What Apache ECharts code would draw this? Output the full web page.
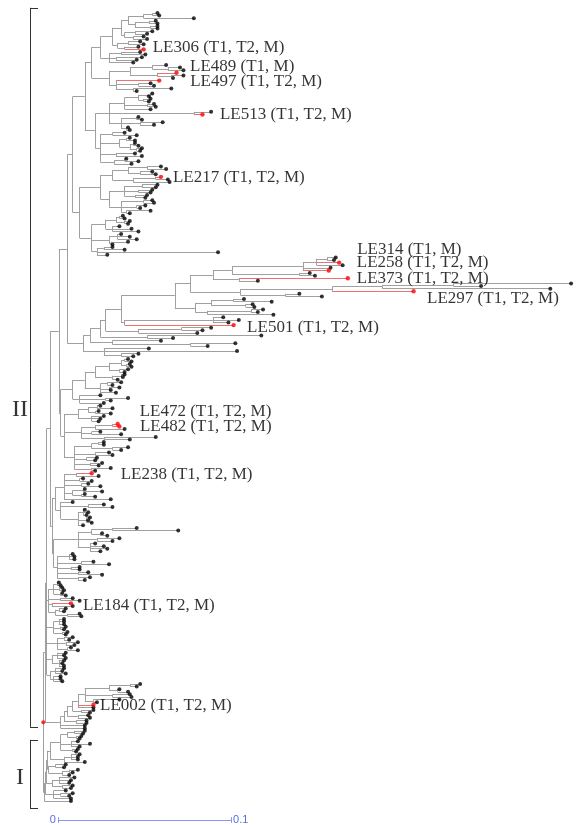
<!DOCTYPE html>
<html><head><meta charset="utf-8">
<script src="https://cdn.jsdelivr.net/npm/echarts@6/dist/echarts.min.js"></script>
<style>html,body{margin:0;padding:0;background:#fff}#c{width:578px;height:825px}</style>
</head><body><div id="c"></div>
<script>
// Tree nodes: [distance from root (x0.001 subst./site), child, child, ...]
// Leaf: distance from root; highlighted isolate: 'NAME:distance'
const A1 = [33,
  [40,
    [45,
      [49, [58, [63, 66, 67], 87], [53, [61, 65, 66], [62, 66, 66]]],
      [47, [53, 63, 60], [52, 58, 60]]
    ],
    [43, [49, 56, 58], [47, 55, 'LE306:58']]
  ],
  [38, [45, 56, 59], [42, 57, 54], 52]
];
const A2 = [38,
  [50, [63, 71, [72, 79, 81]], [66, 'LE489:77', [74, 81, 75]]],
  [42, 'LE497:67', [55, 62, 64], [52, 74, 54]]
];
const A3 = [38,
  [47, [55, [62, 63, 61], [58, 62, 61]], [60, 64, 65], 62],
  [87, 97, 'LE513:92'],
  [45, [54, 55, 57], [56, 69, 64], [48, 49, 50]]
];
const A4 = [33,
  [40, 47, 54],
  [44, [48, 50, 53], [50, [52, 53, 55], [54, 57, 56]]],
  [42, 53, 57],
  [41, [47, 48, 55], 51]
];
const A5 = [33,
  [40, [49, [60, 68, 71], [56, 63, 65]], [52, [65, 'LE217:68', 72], 73]],
  [38,
    [47, [57, 66, 65], [55, 63, 62], [53, 60, 59]],
    [45, [58, 63, 64], [54, 59, 56], [48, 62, 50]]
  ]
];
const A6 = [28,
  [36, [42, [44, 46, 47], [47, 50, 49]], [40, 44, 51, 55]],
  [38, [43, 45, 50, 54], [39, 49, 40]],
  [31, [35, 40, 47], 101, 37]
];
const CLADE_A = [17, [24, [28, A1, A2], [30, A3, A4]], [21, A5, A6]];

const B_TOP = [98,
  [109,
    [150, [158, [164, 169, 168], 'LE314:171', 173], 166, 'LE258:165'],
    [148, 154, 157]
  ],
  [113, 'LE373:176', 124]
];
const B_297 = [114, [167, [196, [237, 305, 253], 293], 'LE297:214'], [140, 148, 161]];
const B_MID = [88, [97, [110, 116, 132], [117, 121, 122]], [95, [120, 127, 124], 133]];
const B_501 = [47, [98, 104, 113, 107], 'LE501:110'];
const CLADE_B = [23,
  [27,
    [33,
      [36, [45, [76, [85, B_TOP, B_297], B_MID], B_501], [55, [80, 97, 92], 89]],
      [60, 126, 75]
    ],
    [40, 68, [85, 111, 95]]
  ],
  [35, 61, 112, [45, 55, 52]]
];

const C1 = [17,
  [24,
    [30, [38, [45, [47, 49, 51], [48, 50, 51]], [44, 49, 47]], [40, [45, 47, 46], 43]],
    [33, [37, 45, 40], [38, 44, 39], 42]
  ],
  [21, 33, [36, 49, 39], 35]
];
const C2 = [12,
  [20, [26, [31, 33, 40], [30, 32, 39]], [28, 35, 33, 32]],
  [22, [30, [40, 'LE472:43', 'LE482:44'], 47], [28, 33, 45], [35, 65, 50]],
  [18, [28, [32, 35, 35], [40, 49, 45]], [30, 38, 40], [25, 31, 30], [27, 34, 32], [28, 39, 30]]
];
const CLADE_C = [10, C1, C2];

const D1 = [12, [19, 'LE238:28', 32], [21, 23, 28], [22, 26, 33], [17, [23, 24, 34], [22, 24, 30]], 39];
const D2 = [10, 17, [26, 35, 40], [20, [23, 24, 26, 25], [25, 27, 26, 28], 23]];
const D3 = [20, [28, [40, 54, 78], [33, 34, 37]], [31, 44, 40], [27, 30, 35, 37, 33]];
const D4 = [8, [15, 17, 18, 18], [22, 29, 38], [16, 21, 21], [20, 26, 34], [20, 27, 24]];
const CLADE_D = [5, [7, D1, D2], [6, D3, D4]];

const E1 = [3,
  [6, [8, 9, 10], [9, 11, 12], [10, 11, 13]],
  [10, 17, 21],
  [5, 'LE184:16', 17],
  [7, [9, 13, 12], [14, 21, 22]]
];
const E2 = [2,
  [6, [9, 12, 12, 12], [10, 13, 12], [11, 14, 13]],
  [8, [12, 17, 15], [13, 20, 18], [14, 16, 20]],
  [5, [8, 13, 12, 13], [9, 12, 11, 12]],
  [4, [7, 12, 11, 13], [6, 10, 10, 11]]
];
const CLADE_F = [8,
  [10,
    [12,
      [14,
        [17,
          [20, [24, [38, [50, 56, 54], [43, 44, 49]], [40, 50, 51], [29, 44, 31]], 'LE002:29', 29],
          [22, 29, 27]
        ],
        [20, 26, 27]
      ],
      [19, 25, 25]
    ],
    24, 24
  ]
];
const I1 = [4,
  [10, [14, [18, 24, 23], [19, 22, 21]], [16, 20, 27, 21], [17, 20, 19]],
  [12, [16, 21, 20, 20], 24]
];
const I2 = [3, [7, 13, 12], [11, [15, 20, 17], 15]];
const I3 = [5, [9, 18, 16, 15], [11, 17, 16]];
const I4 = [6, 13, [10, 17, 15], 16];
const CLADE_I = [0.6, [1.2, [1.8, [2.4, I1, I2], I3], I4], 16];
const CLADE_II = [1, [1.5, [2, [4, [9, [14, CLADE_A, CLADE_B], CLADE_C], CLADE_D], E1], E2], CLADE_F];
const TREE = [0, CLADE_II, CLADE_I];

// Highlighted isolates and the specimens they were found in
const HIGHLIGHT_TAGS = [
  ['LE306', '(T1, T2, M)'], ['LE489', '(T1, M)'], ['LE497', '(T1, T2, M)'], ['LE513', '(T1, T2, M)'],
  ['LE217', '(T1, T2, M)'], ['LE314', '(T1, M)'], ['LE258', '(T1, T2, M)'], ['LE373', '(T1, T2, M)'],
  ['LE297', '(T1, T2, M)'], ['LE501', '(T1, T2, M)'], ['LE472', '(T1, T2, M)'], ['LE482', '(T1, T2, M)'],
  ['LE238', '(T1, T2, M)'], ['LE184', '(T1, T2, M)'], ['LE002', '(T1, T2, M)']
];
// Clade brackets: [name, first row, last row]
const CLADE_BRACKETS = [['II', -2, 274.5], ['I', 279.5, 305.8]];
// Scale bar ticks (substitutions per site)
const SCALE_TICKS = [0, 0.1];

// ---------- style / placement ----------
const LABEL_OFFSETS = {
  LE306: [9, -1.5], LE489: [13.5, -6], LE497: [31, 0.5], LE513: [17.5, 0], LE217: [12, 1],
  LE314: [18, -12.7], LE258: [28, -7.5], LE373: [9, 0], LE297: [13.5, 7.7], LE501: [13.5, 2],
  LE472: [22, -12], LE482: [20.5, 0.5], LE238: [29, 1], LE184: [12, 2.6], LE002: [6.6, 1]
};
const BRACKET_LABEL_ROWS = {II: 152.7, I: 294.2};
const UNIT = 0.001;          // tree distances are in 0.001 subst./site
const BRACKET_X = -7.66, BRACKET_TICK = -3.04, BRACKET_LABEL_X = -13.4;
const SCALE_START = 8.5, SCALE_ROW = 310.3;

// ---------- layout ----------
let leafRow = 0;
const greySegs = [], redSegs = [], leafDots = [], redDots = [];
function layout(node, parentD) {
  if (!Array.isArray(node)) {
    let d = node, name = null;
    if (typeof node === 'string') { const p = node.split(':'); name = p[0]; d = +p[1]; }
    const y = leafRow++;
    if (name) { redSegs.push({coords: [[parentD, y], [d, y]]}); redDots.push({name: name, value: [d, y]}); }
    else { greySegs.push({coords: [[parentD, y], [d, y]]}); leafDots.push([d, y]); }
    return y;
  }
  const d = node[0];
  const ys = [];
  for (let i = 1; i < node.length; i++) ys.push(layout(node[i], d));
  const y = (ys[0] + ys[ys.length - 1]) / 2;
  greySegs.push({coords: [[d, ys[0]], [d, ys[ys.length - 1]]]});
  if (parentD !== null) greySegs.push({coords: [[parentD, y], [d, y]]});
  return y;
}
const rootY = layout(TREE, null);

const tagMap = Object.fromEntries(HIGHLIGHT_TAGS);
const redLabelData = redDots.map(p => {
  const off = LABEL_OFFSETS[p.name] || [6, 0];
  return {name: p.name, value: p.value, label: {offset: [off[0] - 2.2, off[1]]}};
});

const bracketSegs = [], bracketLabels = [];
CLADE_BRACKETS.forEach(b => {
  bracketSegs.push({coords: [[BRACKET_X, b[1]], [BRACKET_X, b[2]]]});
  bracketSegs.push({coords: [[BRACKET_X, b[1]], [BRACKET_TICK, b[1]]]});
  bracketSegs.push({coords: [[BRACKET_X, b[2]], [BRACKET_TICK, b[2]]]});
  bracketLabels.push({name: b[0], value: [BRACKET_LABEL_X, BRACKET_LABEL_ROWS[b[0]]]});
});

const sx0 = SCALE_START + SCALE_TICKS[0] / UNIT, sx1 = SCALE_START + SCALE_TICKS[1] / UNIT;
const scaleSegs = [
  {coords: [[sx0, SCALE_ROW], [sx1, SCALE_ROW]]},
  {coords: [[sx0, SCALE_ROW - 1.1], [sx0, SCALE_ROW + 1.1]]},
  {coords: [[sx1, SCALE_ROW - 1.1], [sx1, SCALE_ROW + 1.1]]}
];
const scaleLabels = [
  {name: String(SCALE_TICKS[0]), value: [sx0, SCALE_ROW], label: {position: 'left', distance: 2}},
  {name: String(SCALE_TICKS[1]), value: [sx1, SCALE_ROW], label: {position: 'right', distance: 2}}
];

const chart = echarts.init(document.getElementById('c'), null, {renderer: 'canvas'});
chart.setOption({
  animation: false,
  grid: {left: 0, right: 0, top: 0, bottom: 0},
  xAxis: {type: 'value', min: -25, max: 309, show: false},
  yAxis: {type: 'value', inverse: true, min: -5, max: 312.23, show: false},
  series: [
    {type: 'lines', coordinateSystem: 'cartesian2d', silent: true, data: greySegs,
      lineStyle: {color: '#a0a0a0', width: 1, opacity: 1}},
    {type: 'lines', coordinateSystem: 'cartesian2d', silent: true, data: redSegs,
      lineStyle: {color: '#f07070', width: 1, opacity: 1}},
    {type: 'lines', coordinateSystem: 'cartesian2d', silent: true, data: bracketSegs,
      lineStyle: {color: '#333', width: 1, opacity: 1}},
    {type: 'lines', coordinateSystem: 'cartesian2d', silent: true, data: scaleSegs,
      lineStyle: {color: '#8a94f2', width: 1, opacity: 1}},
    {type: 'scatter', silent: true, symbolSize: 4, data: leafDots, itemStyle: {color: '#000'}},
    {type: 'scatter', silent: true, symbolSize: 4.4, data: redLabelData, itemStyle: {color: '#ff0000'},
      label: {show: true, position: 'right', distance: 0, formatter: p => p.name + ' ' + tagMap[p.name],
        fontFamily: 'Liberation Serif', fontSize: 17, color: '#000'}},
    {type: 'scatter', silent: true, symbolSize: 4, data: [[0, rootY]], itemStyle: {color: '#ff0000'}},
    {type: 'scatter', silent: true, symbolSize: 0, data: bracketLabels,
      label: {show: true, position: 'inside', formatter: p => p.name,
        fontFamily: 'Liberation Serif', fontSize: 24, color: '#000'}},
    {type: 'scatter', silent: true, symbolSize: 0, data: scaleLabels,
      label: {show: true, formatter: p => p.name, fontFamily: 'Liberation Sans', fontSize: 11, color: '#2f45d6'}}
  ]
});
</script></body></html>
